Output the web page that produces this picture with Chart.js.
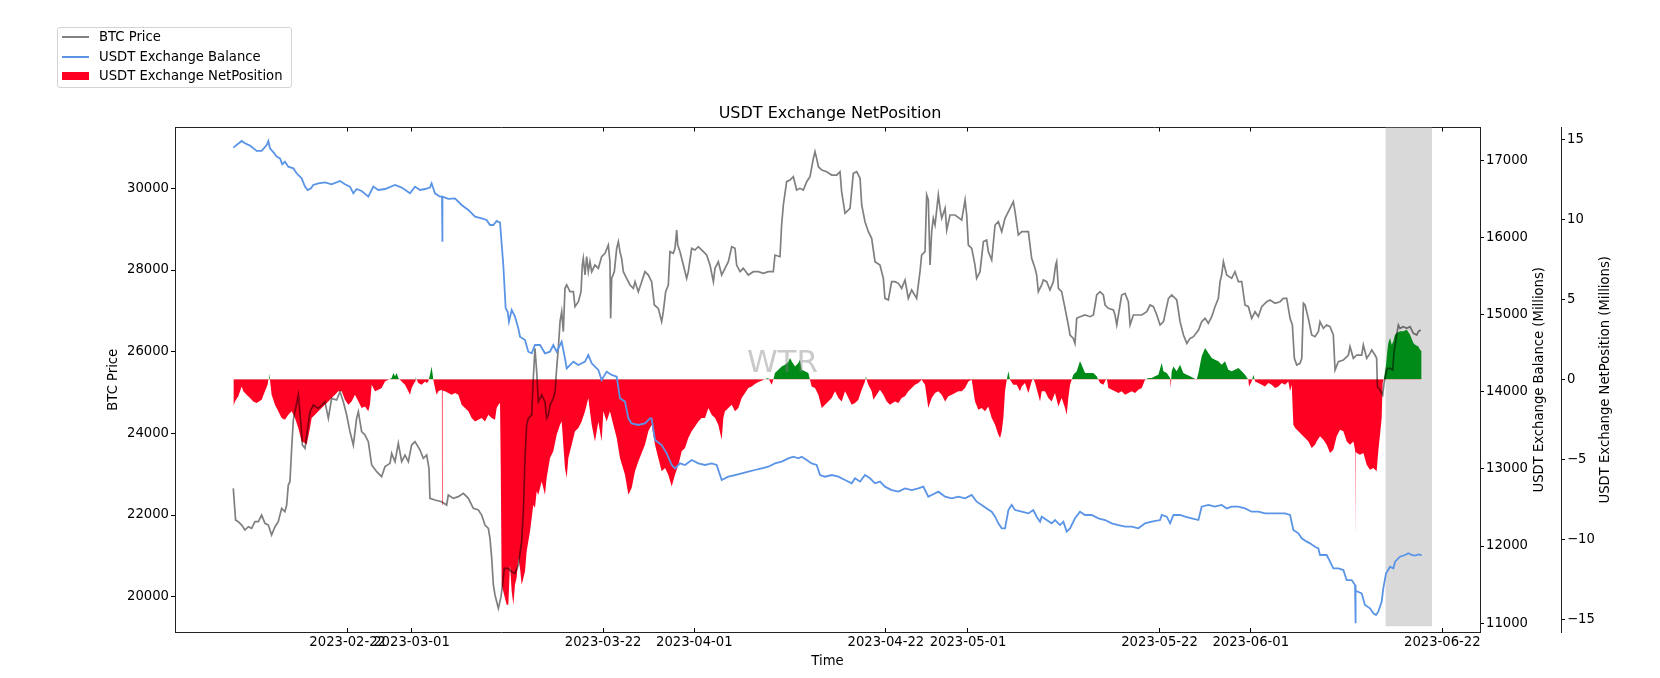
<!DOCTYPE html>
<html>
<head>
<meta charset="utf-8">
<script src="https://cdn.jsdelivr.net/npm/chart.js@4.4.0/dist/chart.umd.min.js"></script>
<style>
html,body{margin:0;padding:0;background:#fff;}
#wrap{position:relative;width:1660px;height:678px;overflow:hidden;}
#c{position:absolute;left:0;top:0;}
.lg{position:absolute;font-family:'DejaVu Sans';font-size:13.2px;color:#000;white-space:nowrap;line-height:16px;height:16px;}
#lgbox{position:absolute;left:57px;top:27px;width:235px;height:61px;box-sizing:border-box;border:1px solid #d4d4d4;border-radius:3px;background:rgba(255,255,255,0.8);}
.sw{position:absolute;}
</style>
</head>
<body>
<div id="wrap">
<canvas id="c" width="1660" height="678"></canvas>
<div id="lgbox"></div>
<div class="sw" style="left:62px;top:36px;width:27px;height:1.6px;background:#808080;"></div>
<div class="lg" style="left:99px;top:29px;">BTC Price</div>
<div class="sw" style="left:62px;top:56px;width:27px;height:1.6px;background:#5a94e6;"></div>
<div class="lg" style="left:99px;top:49px;">USDT Exchange Balance</div>
<div class="sw" style="left:62px;top:72px;width:27px;height:8px;background:#fe0022;"></div>
<div class="lg" style="left:99px;top:68px;">USDT Exchange NetPosition</div>
</div>
<script>
// time axis: days since 2023-02-22 00:00
const xTickDays = [0, 7, 28, 38, 59, 68, 89, 99, 120];
const xTickLabels = ['2023-02-22','2023-03-01','2023-03-22','2023-04-01','2023-04-22','2023-05-01','2023-05-22','2023-06-01','2023-06-22'];
const btcTicks = [20000, 22000, 24000, 26000, 28000, 30000];
const balTicks = [11000, 12000, 13000, 14000, 15000, 16000, 17000];
const netTicks = [-15, -10, -5, 0, 5, 10, 15];

// BTC price [day, price]
const btcPoints = [[-12.54,22653],[-12.29,21877],[-12.00,21837],[-11.62,21755],[-11.26,21633],[-10.89,21714],[-10.53,21673],[-10.16,21837],[-9.80,21837],[-9.43,22000],[-9.07,21796],[-8.70,21755],[-8.34,21510],[-7.97,21714],[-7.61,21837],[-7.24,22163],[-6.88,22082],[-6.69,22245],[-6.51,22735],[-6.33,22816],[-6.14,23633],[-5.96,24326],[-5.78,24530],[-5.41,24939],[-5.12,24204],[-4.97,23714],[-4.68,23633],[-4.39,24122],[-4.13,24530],[-3.77,24694],[-3.22,24612],[-2.85,24694],[-2.49,24775],[-2.12,24367],[-1.76,24857],[-1.21,24816],[-0.84,25020],[-0.48,24775],[-0.11,24449],[0.25,24041],[0.62,23714],[0.98,24367],[1.17,24530],[1.53,24041],[1.90,23959],[2.26,23796],[2.63,23224],[3.18,23061],[3.72,22939],[4.09,23184],[4.64,23265],[4.82,23510],[5.19,23306],[5.55,23755],[5.92,23306],[6.28,23469],[6.65,23306],[7.01,23714],[7.38,23796],[7.93,23592],[8.29,23388],[8.66,23469],[8.91,23143],[9.02,22408],[9.57,22367],[10.30,22326],[10.85,22245],[11.03,22490],[11.58,22408],[12.13,22449],[12.68,22531],[13.23,22408],[13.77,22163],[14.32,22122],[14.69,22000],[15.05,21755],[15.42,21673],[15.60,21429],[15.79,20939],[15.97,20286],[16.15,20041],[16.52,19714],[16.81,20000],[16.95,20245],[17.17,20694],[17.61,20694],[17.98,20612],[18.34,20571],[18.71,20775],[19.07,21347],[19.26,22082],[19.44,23388],[19.62,24204],[19.80,24367],[19.99,24408],[20.17,24449],[20.35,25347],[20.53,26082],[20.72,25510],[20.90,24775],[21.27,24939],[21.63,24775],[21.81,24367],[22.00,24449],[22.18,24694],[22.54,24857],[22.73,25020],[22.91,25592],[23.09,26082],[23.28,26735],[23.46,26980],[23.64,26490],[23.82,27551],[24.01,27633],[24.37,27469],[24.74,27469],[24.92,27102],[25.29,27224],[25.58,27469],[25.72,28122],[25.83,28286],[26.02,27877],[26.20,28326],[26.38,27959],[26.56,28204],[26.75,27959],[27.11,28122],[27.48,28041],[27.84,28326],[28.21,28408],[28.57,28612],[28.75,28204],[28.83,26816],[28.94,27796],[29.23,27959],[29.49,28530],[29.67,28694],[29.85,28449],[30.03,28286],[30.22,27959],[30.58,27796],[30.95,27633],[31.31,27551],[31.50,27714],[31.86,27469],[32.23,27714],[32.59,27959],[32.96,27877],[33.14,27796],[33.32,27714],[33.62,27143],[34.05,27061],[34.42,26735],[34.60,26980],[34.86,27469],[35.15,27633],[35.33,28449],[35.70,28408],[35.88,28530],[36.07,28979],[36.18,28612],[36.43,28449],[36.80,28122],[37.16,27796],[37.34,27959],[37.71,28530],[38.07,28490],[38.44,28571],[38.99,28449],[39.35,28367],[39.72,28122],[40.09,27714],[40.27,28041],[40.63,28204],[41.00,27877],[41.36,28041],[41.73,28204],[42.10,28571],[42.46,28530],[42.64,28122],[43.01,27959],[43.37,28041],[43.92,27877],[44.47,27959],[45.02,27959],[45.57,27918],[46.11,27959],[46.66,27959],[46.84,28367],[47.39,28326],[47.57,29102],[47.76,29592],[48.12,30163],[48.49,30204],[48.85,30286],[49.22,29959],[49.58,30000],[49.95,29959],[50.32,30163],[50.68,30286],[51.05,30734],[51.23,30898],[51.41,30734],[51.60,30530],[51.97,30449],[52.51,30408],[53.06,30326],[53.61,30326],[53.97,30408],[54.15,29918],[54.52,29388],[55.07,29510],[55.43,30367],[55.80,30408],[56.17,30245],[56.35,29592],[56.71,29184],[57.08,28939],[57.44,28775],[57.81,28204],[58.35,28122],[58.72,27796],[58.90,27306],[59.27,27265],[59.63,27714],[60.00,27714],[60.37,27673],[60.73,27551],[61.10,27755],[61.46,27306],[61.83,27510],[62.37,27306],[62.74,27959],[62.92,28367],[63.29,28449],[63.47,29837],[63.65,29714],[63.84,28122],[64.02,28939],[64.20,29265],[64.39,29102],[64.75,29837],[64.94,29510],[65.12,29265],[65.49,29510],[65.67,28979],[66.03,29347],[66.58,29347],[67.31,29224],[67.68,29714],[67.86,29347],[68.04,28612],[68.41,28530],[68.77,28122],[68.95,27796],[69.32,27959],[69.69,28694],[70.05,28734],[70.23,28449],[70.60,28245],[70.97,29102],[71.33,29184],[71.70,28939],[72.06,29265],[72.61,29510],[72.97,29673],[73.16,29428],[73.52,28857],[73.89,28939],[74.62,28939],[74.98,28286],[75.35,28041],[75.53,27877],[75.71,27469],[76.08,27633],[76.26,27755],[76.63,27714],[76.99,27510],[77.36,27714],[77.61,28122],[77.72,28204],[77.91,27551],[78.27,27469],[78.64,27061],[79.00,26653],[79.19,26408],[79.55,26326],[79.73,26204],[79.92,26816],[80.29,26857],[80.83,26898],[81.38,26857],[81.75,26898],[81.93,27143],[82.11,27388],[82.48,27469],[82.84,27388],[83.03,27143],[83.39,27061],[83.94,27020],[84.12,26898],[84.31,26653],[84.67,27143],[84.85,27388],[85.22,27429],[85.58,27224],[85.77,26653],[86.13,26898],[87.05,26898],[87.60,26980],[87.96,27143],[88.33,27102],[88.70,26898],[89.06,26653],[89.43,26735],[89.98,27306],[90.34,27388],[90.89,27265],[91.25,26735],[91.62,26408],[91.99,26204],[92.35,26326],[92.72,26367],[93.27,26530],[93.62,26735],[93.99,26816],[94.35,26694],[94.72,26857],[95.08,27102],[95.45,27306],[95.63,27714],[95.81,27877],[96.00,28204],[96.36,27877],[96.91,27796],[97.27,27959],[97.64,27714],[98.01,27714],[98.37,27143],[98.74,27102],[99.10,26816],[99.47,26980],[99.83,26857],[100.20,27102],[100.75,27224],[101.11,27265],[101.66,27184],[102.21,27224],[102.57,27306],[102.94,27306],[103.31,26816],[103.56,26653],[103.78,25837],[104.04,25673],[104.40,25714],[104.59,25837],[104.77,27184],[104.95,27143],[105.31,26816],[105.68,26408],[106.04,26367],[106.41,26490],[106.59,26735],[106.96,26571],[107.32,26653],[107.69,26612],[108.05,26408],[108.24,25551],[108.60,25755],[109.15,25796],[109.70,25918],[109.88,26122],[110.25,25837],[110.61,25918],[111.16,25918],[111.34,26163],[111.71,25837],[112.07,25959],[112.26,26041],[112.62,25918],[112.80,25837],[112.88,25143],[113.17,25061],[113.46,24939],[113.61,25224],[113.83,25469],[113.97,25592],[114.27,25592],[114.56,25551],[114.71,25999],[114.93,26326],[115.18,26653],[115.36,26571],[115.73,26612],[116.10,26571],[116.46,26612],[116.83,26449],[117.19,26408],[117.37,26490],[117.63,26530]];

// USDT exchange balance (millions) [day, value]
const balancePoints = [[-12.54,17170],[-11.62,17256],[-11.26,17226],[-10.71,17196],[-9.98,17127],[-9.43,17127],[-8.88,17204],[-8.70,17256],[-8.52,17161],[-8.04,17096],[-7.79,17053],[-7.42,17031],[-7.17,16953],[-6.88,16988],[-6.51,16923],[-5.96,16902],[-5.60,16837],[-5.05,16772],[-4.68,16664],[-4.39,16620],[-4.02,16642],[-3.77,16685],[-3.22,16707],[-2.49,16720],[-1.76,16694],[-0.84,16737],[-0.30,16694],[0.25,16664],[0.62,16577],[0.98,16633],[1.53,16607],[2.26,16534],[2.81,16664],[3.36,16620],[4.09,16633],[5.19,16685],[5.92,16651],[6.83,16577],[7.38,16664],[7.93,16620],[8.48,16633],[9.02,16651],[9.20,16707],[9.57,16577],[10.12,16534],[10.34,16534],[10.36,15950],[10.39,15950],[10.41,16534],[11.03,16504],[11.76,16512],[12.49,16426],[13.23,16361],[13.96,16274],[14.69,16253],[15.23,16231],[15.60,16166],[15.97,16166],[16.33,16218],[16.70,16197],[17.06,15647],[17.32,15085],[17.54,15041],[17.68,14912],[17.98,15063],[18.34,14977],[18.71,14825],[18.89,14717],[19.44,14674],[19.80,14522],[20.17,14501],[20.53,14609],[21.08,14609],[21.63,14501],[22.18,14522],[22.54,14609],[22.91,14522],[23.28,14609],[23.46,14652],[23.82,14436],[24.01,14306],[24.37,14349],[24.74,14393],[25.29,14349],[26.02,14393],[26.38,14479],[26.75,14371],[27.11,14328],[27.48,14285],[27.84,14155],[28.39,14263],[28.94,14220],[29.49,14198],[29.85,13917],[30.40,13874],[30.77,13657],[31.13,13592],[31.86,13571],[32.59,13592],[33.14,13657],[33.32,13657],[33.69,13376],[34.42,13311],[34.97,13203],[35.52,13052],[35.88,13008],[36.43,13073],[36.98,13052],[37.71,13117],[38.44,13073],[39.17,13052],[39.90,13073],[40.45,13052],[41.00,12857],[41.73,12900],[42.46,12922],[43.19,12944],[43.92,12965],[44.65,12987],[45.38,13008],[46.11,13030],[46.84,13073],[47.57,13095],[48.31,13138],[48.85,13160],[49.40,13138],[49.77,13160],[50.32,13117],[50.86,13073],[51.41,13052],[51.78,12922],[52.32,12900],[53.06,12922],[53.79,12900],[54.52,12857],[55.25,12814],[55.62,12879],[56.17,12836],[56.71,12922],[57.26,12879],[57.81,12814],[58.35,12836],[58.90,12771],[59.63,12727],[60.37,12706],[61.10,12749],[61.83,12727],[62.56,12749],[63.11,12771],[63.65,12641],[64.02,12663],[64.75,12706],[65.49,12641],[66.22,12619],[66.95,12641],[67.68,12619],[68.41,12663],[68.95,12576],[69.50,12533],[70.05,12489],[70.60,12446],[70.97,12381],[71.33,12295],[71.70,12230],[72.06,12230],[72.43,12468],[72.79,12533],[73.16,12468],[73.89,12446],[74.62,12424],[75.16,12468],[75.53,12381],[75.90,12316],[76.08,12381],[76.63,12338],[77.17,12295],[77.54,12338],[78.09,12273],[78.46,12316],[78.82,12187],[79.19,12230],[79.73,12360],[80.28,12446],[80.83,12403],[81.56,12403],[82.29,12360],[83.03,12338],[83.76,12295],[84.49,12273],[85.22,12252],[85.95,12252],[86.68,12230],[87.41,12295],[88.14,12316],[89.06,12338],[89.24,12403],[89.79,12381],[90.16,12295],[90.52,12403],[91.25,12403],[91.80,12381],[92.52,12360],[93.26,12338],[93.62,12511],[94.35,12533],[95.08,12511],[95.81,12533],[96.36,12489],[96.91,12511],[97.64,12511],[98.37,12489],[99.10,12446],[99.83,12446],[100.56,12424],[101.29,12424],[102.03,12424],[102.76,12424],[103.31,12403],[103.67,12208],[104.22,12165],[104.59,12100],[105.13,12057],[105.50,12035],[106.04,11992],[106.41,11970],[106.59,11884],[107.32,11884],[107.69,11797],[108.05,11711],[108.60,11711],[109.15,11689],[109.51,11559],[110.06,11559],[110.43,11494],[110.46,10999],[110.49,10999],[110.53,11420],[111.16,11386],[111.52,11235],[112.07,11192],[112.44,11127],[112.73,11105],[112.98,11149],[113.35,11278],[113.53,11451],[113.83,11646],[114.27,11732],[114.63,11711],[114.82,11797],[115.36,11862],[115.91,11884],[116.28,11906],[116.64,11884],[117.01,11876],[117.37,11893],[117.74,11884]];

// USDT exchange net position (millions) [day, value]
const netPoints = [[-12.54,-1.69],[-12.36,-1.38],[-11.99,-1.06],[-11.62,-0.44],[-11.44,-0.75],[-11.08,-0.96],[-10.71,-1.17],[-10.35,-1.38],[-9.98,-1.48],[-9.43,-1.27],[-9.07,-0.75],[-8.78,-0.33],[-8.70,-0.02],[-8.63,0.40],[-8.52,-0.02],[-8.34,-0.96],[-7.97,-1.58],[-7.61,-2.00],[-7.24,-2.42],[-6.88,-2.52],[-6.51,-2.21],[-6.14,-2.00],[-5.78,-2.42],[-5.41,-3.04],[-5.05,-3.88],[-4.68,-3.98],[-4.50,-4.08],[-4.31,-3.56],[-4.13,-3.04],[-3.95,-2.42],[-3.58,-2.21],[-3.22,-2.00],[-2.85,-1.79],[-2.49,-1.58],[-2.12,-1.38],[-1.76,-1.17],[-1.39,-0.96],[-1.03,-0.75],[-0.66,-0.75],[-0.30,-1.27],[0.07,-1.58],[0.43,-1.38],[0.80,-0.96],[1.17,-1.38],[1.53,-1.79],[1.90,-1.69],[2.26,-2.00],[2.44,-1.58],[2.63,-0.33],[2.99,-0.75],[3.36,-0.65],[3.72,-0.54],[4.09,-0.13],[4.45,-0.02],[4.82,0.08],[5.00,0.40],[5.19,0.19],[5.37,0.40],[5.55,0.08],[5.73,-0.02],[5.92,-0.13],[6.28,-0.33],[6.65,-0.75],[6.83,-0.96],[7.01,-0.54],[7.38,-0.13],[7.45,0.13],[7.74,-0.23],[8.11,-0.33],[8.48,-0.13],[8.66,-0.23],[8.84,-0.13],[9.02,0.29],[9.20,0.81],[9.39,-0.02],[9.57,-0.54],[9.75,-0.96],[9.94,-0.75],[10.30,-0.65],[10.33,-0.68],[10.34,-7.83],[10.40,-7.83],[10.41,-0.70],[10.67,-0.75],[11.03,-0.85],[11.40,-0.96],[11.76,-0.85],[12.13,-0.96],[12.49,-1.58],[12.86,-1.79],[13.23,-2.00],[13.59,-2.42],[13.96,-2.63],[14.32,-2.52],[14.69,-2.42],[15.05,-2.63],[15.42,-2.21],[15.79,-2.42],[16.15,-2.52],[16.33,-1.79],[16.52,-1.58],[16.70,-1.48],[16.78,-5.50],[16.88,-12.83],[17.24,-13.67],[17.43,-14.08],[17.61,-14.08],[17.79,-11.58],[17.98,-13.25],[18.16,-14.08],[18.34,-12.83],[18.52,-12.42],[18.71,-11.17],[18.89,-11.79],[19.07,-12.83],[19.26,-12.42],[19.44,-12.00],[19.62,-10.75],[19.80,-10.13],[19.99,-9.50],[20.17,-8.67],[20.35,-7.83],[20.53,-8.04],[20.72,-7.00],[20.90,-7.21],[21.27,-6.38],[21.63,-7.21],[21.81,-6.17],[22.18,-4.92],[22.54,-4.50],[22.91,-3.46],[23.28,-2.83],[23.46,-2.63],[23.64,-4.08],[23.82,-5.54],[24.01,-6.17],[24.19,-4.92],[24.55,-4.08],[24.92,-3.25],[25.29,-3.04],[25.65,-2.63],[26.02,-2.00],[26.38,-1.17],[26.56,-2.00],[26.75,-2.83],[27.11,-3.88],[27.48,-2.63],[27.84,-3.88],[28.03,-2.00],[28.39,-2.63],[28.75,-2.00],[29.12,-2.83],[29.49,-3.67],[29.85,-4.92],[30.40,-5.96],[30.77,-7.21],[31.13,-6.79],[31.50,-5.75],[31.86,-5.13],[32.23,-4.60],[32.59,-4.08],[32.96,-3.25],[33.32,-2.83],[33.69,-4.08],[34.05,-4.92],[34.42,-5.75],[34.79,-5.54],[35.15,-5.96],[35.52,-6.69],[35.88,-5.96],[36.25,-5.33],[36.62,-4.50],[36.98,-4.29],[37.34,-3.67],[37.71,-3.25],[38.07,-2.94],[38.44,-2.63],[38.80,-2.42],[39.17,-2.42],[39.54,-1.79],[39.90,-2.21],[40.27,-2.42],[40.63,-2.83],[41.00,-3.77],[41.18,-2.42],[41.36,-2.00],[41.73,-1.79],[42.10,-1.58],[42.46,-2.00],[42.83,-1.79],[43.19,-1.17],[43.56,-0.85],[43.92,-0.54],[44.29,-0.44],[44.65,-0.29],[45.02,-0.17],[45.38,-0.08],[45.75,0.02],[46.11,0.08],[46.48,-0.33],[46.66,-0.02],[46.84,0.40],[47.21,0.60],[47.57,0.81],[47.94,0.92],[48.31,1.08],[48.49,1.33],[48.67,1.13],[49.04,0.81],[49.40,1.02],[49.58,1.23],[49.77,0.60],[50.13,0.50],[50.50,0.40],[50.68,-0.02],[50.86,-0.44],[51.23,-0.54],[51.60,-0.96],[51.97,-1.79],[52.33,-1.58],[52.69,-1.38],[53.06,-1.17],[53.43,-0.75],[53.79,-1.17],[54.16,-1.38],[54.52,-0.75],[54.89,-1.17],[55.25,-1.58],[55.62,-1.48],[55.98,-1.27],[56.35,-0.65],[56.71,-0.13],[56.82,0.19],[56.89,-0.02],[57.08,-0.33],[57.44,-0.75],[57.63,-1.27],[57.99,-0.96],[58.35,-0.65],[58.72,-0.96],[59.09,-1.38],[59.45,-1.58],[60.00,-1.38],[60.37,-1.48],[60.73,-1.17],[61.10,-1.06],[61.46,-0.75],[61.83,-0.54],[62.19,-0.33],[62.56,-0.23],[62.92,-0.02],[63.29,-0.33],[63.65,-1.79],[64.02,-1.17],[64.39,-0.85],[64.75,-0.75],[65.12,-0.96],[65.49,-1.38],[65.85,-1.06],[66.22,-0.96],[66.58,-0.85],[66.95,-0.75],[67.31,-0.75],[67.68,-0.54],[68.04,-0.13],[68.41,-0.02],[68.77,-1.38],[69.14,-1.90],[69.50,-1.79],[69.87,-2.00],[70.23,-1.69],[70.60,-2.42],[70.97,-2.83],[71.33,-3.46],[71.52,-3.67],[71.70,-3.25],[71.88,-2.42],[72.06,-0.75],[72.25,-0.02],[72.43,0.50],[72.61,-0.02],[72.97,-0.33],[73.34,-0.33],[73.70,-0.75],[73.89,-0.44],[74.25,-0.23],[74.62,-0.85],[74.98,-0.13],[75.16,0.08],[75.35,-0.23],[75.71,-0.96],[75.90,-1.38],[76.08,-0.75],[76.44,-0.75],[76.81,-1.17],[77.17,-1.38],[77.54,-0.85],[77.91,-1.69],[78.27,-1.17],[78.64,-1.79],[78.82,-2.21],[79.00,-1.17],[79.19,-0.33],[79.37,-0.02],[79.55,0.29],[79.92,0.50],[80.28,1.13],[80.46,0.92],[80.83,0.40],[81.20,0.40],[81.74,0.40],[82.11,0.19],[82.29,-0.02],[82.48,-0.23],[82.84,-0.33],[83.21,0.08],[83.39,-0.54],[83.76,-0.65],[84.12,-0.75],[84.49,-0.85],[84.85,-0.75],[85.22,-0.96],[85.58,-0.85],[85.95,-0.75],[86.31,-0.85],[86.68,-0.65],[87.05,-0.54],[87.41,-0.02],[87.78,0.08],[88.14,0.08],[88.50,0.19],[88.87,0.29],[89.24,1.02],[89.42,0.50],[89.79,0.40],[90.16,0.08],[90.23,-0.54],[90.33,0.50],[90.52,0.81],[90.88,0.50],[91.25,0.92],[91.61,0.40],[91.98,0.29],[92.35,0.19],[92.71,0.08],[93.07,-0.02],[93.26,0.40],[93.62,1.44],[93.99,1.96],[94.35,1.65],[94.72,1.33],[95.08,1.23],[95.45,1.13],[95.81,0.92],[96.18,1.13],[96.54,0.60],[96.91,0.50],[97.27,0.60],[97.64,0.71],[98.01,0.50],[98.37,0.29],[98.74,-0.02],[98.81,-0.44],[99.10,-0.13],[99.29,0.29],[99.47,-0.13],[99.83,-0.23],[100.20,-0.33],[100.56,-0.44],[100.93,-0.23],[101.29,-0.33],[101.66,-0.54],[102.03,-0.44],[102.39,-0.23],[102.76,-0.33],[103.12,-0.13],[103.31,-0.75],[103.49,-0.33],[103.67,-2.83],[103.86,-3.04],[104.22,-3.25],[104.59,-3.46],[104.95,-3.67],[105.32,-3.88],[105.68,-4.29],[106.05,-4.08],[106.22,-3.88],[106.59,-3.56],[106.96,-3.77],[107.32,-4.08],[107.69,-4.60],[108.05,-4.40],[108.42,-3.56],[108.79,-3.15],[109.15,-3.25],[109.52,-3.88],[109.88,-4.08],[110.25,-3.88],[110.43,-4.40],[110.44,-9.98],[110.50,-9.98],[110.51,-4.50],[110.61,-4.60],[110.98,-4.71],[111.34,-4.60],[111.71,-5.33],[112.07,-5.65],[112.44,-5.54],[112.80,-5.75],[112.98,-4.50],[113.17,-3.46],[113.35,-2.42],[113.46,-0.23],[113.61,0.08],[113.72,0.50],[113.83,0.92],[113.97,1.75],[114.08,2.27],[114.27,2.58],[114.45,2.17],[114.63,2.38],[114.81,2.79],[115.00,2.90],[115.36,3.00],[115.73,3.00],[116.10,3.10],[116.46,2.79],[116.83,2.27],[117.01,2.17],[117.37,2.06],[117.56,1.85],[117.74,1.75]];

// highlighted period (days) and its vertical extent on the balance axis
const shadeDays = [113.75, 118.87];
const shadeBalRange = [10960, 17600];

const xMin = -18.93, xMax = 124.13;
const btcMin = 19135, btcMax = 31490;
const balMin = 10885, balMax = 17431;
const netMin = -15.79, netMax = 15.74;

const FONT = 'DejaVu Sans';
Chart.defaults.font.family = FONT;
const tickFont = {family: FONT, size: 13.2};
const labelFont = {family: FONT, size: 13.2};
const toXY = pts => pts.map(p => ({x: p[0], y: p[1]}));
const setTicks = arr => (s => { s.ticks = arr.map(v => ({value: v})); });
const minus = v => (v < 0 ? '\u2212' + Math.abs(v) : String(v));

const extras = {
  id: 'extras',
  afterDatasetsDraw(chart) {
    const {ctx, chartArea: ca} = chart;
    ctx.save();
    ctx.font = '31px "' + FONT + '"';
    ctx.fillStyle = 'rgba(128,128,128,0.42)';
    ctx.textAlign = 'center';
    ctx.textBaseline = 'alphabetic';
    ctx.fillText('WTR', ca.left + ca.width * 0.4655, ca.top + ca.height * 0.4837);
    ctx.restore();
  },
  afterDraw(chart) {
    const {ctx, chartArea: ca, scales} = chart;
    const cy = (ca.top + ca.bottom) / 2;
    ctx.save();
    ctx.font = '13.2px "' + FONT + '"';
    ctx.fillStyle = '#000';
    ctx.textAlign = 'center';
    ctx.textBaseline = 'middle';
    [[scales.yBal, 60, 'USDT Exchange Balance (Millions)'],
     [scales.yNet, 45, 'USDT Exchange NetPosition (Millions)']].forEach(([s, off, txt]) => {
      ctx.save();
      ctx.translate(s.left + off, cy);
      ctx.rotate(-Math.PI / 2);
      ctx.fillText(txt, 0, 0);
      ctx.restore();
    });
    ctx.restore();
  }
};

new Chart(document.getElementById('c'), {
  type: 'line',
  data: {
    datasets: [
      {label: 'USDT Exchange Balance', data: toXY(balancePoints), yAxisID: 'yBal', xAxisID: 'x',
       borderColor: '#5a94e6', borderWidth: 1.8, pointRadius: 0, fill: false, tension: 0, order: 0},
      {label: 'BTC Price', data: toXY(btcPoints), yAxisID: 'yBTC', xAxisID: 'x',
       borderColor: 'rgba(0,0,0,0.5)', borderWidth: 1.7, pointRadius: 0, fill: false, tension: 0, order: 1},
      {label: 'USDT Exchange NetPosition', data: toXY(netPoints), yAxisID: 'yNet', xAxisID: 'x',
       borderColor: 'rgba(0,0,0,0)', borderWidth: 0, backgroundColor: '#fe0022', pointRadius: 0, tension: 0,
       fill: {target: 'origin', above: '#008a18', below: '#fe0022'}, order: 2},
      {label: 'highlight', data: shadeDays.map(d => ({x: d, y: shadeBalRange[1]})), yAxisID: 'yBal', xAxisID: 'x',
       borderColor: 'rgba(0,0,0,0)', borderWidth: 0, backgroundColor: '#d9d9d9', pointRadius: 0,
       fill: {value: shadeBalRange[0]}, order: 3}
    ]
  },
  options: {
    responsive: false,
    animation: false,
    events: [],
    layout: {padding: 0},
    plugins: {
      legend: {display: false},
      tooltip: {enabled: false},
      title: {display: true, text: 'USDT Exchange NetPosition', color: '#000',
              font: {family: FONT, size: 16, weight: 'normal'}, padding: {top: 103.8, bottom: 4.5}}
    },
    scales: {
      x: {type: 'linear', position: 'bottom', min: xMin, max: xMax,
          afterBuildTicks: setTicks(xTickDays),
          ticks: {autoSkip: false, maxRotation: 0, minRotation: 0, padding: 6.4, font: tickFont, color: '#000',
                  callback: (v, i) => xTickLabels[i]},
          grid: {drawOnChartArea: false, drawTicks: true, tickLength: -4, color: '#000', lineWidth: 1},
          border: {display: true, color: '#222', width: 1},
          title: {display: true, text: 'Time', color: '#000', font: labelFont, padding: {top: 0, bottom: 8.2}},
          afterFit: s => { s.height = 46; }},
      xTop: {type: 'linear', position: 'top', min: xMin, max: xMax,
          afterBuildTicks: setTicks(xTickDays),
          ticks: {display: false},
          grid: {drawOnChartArea: false, drawTicks: true, tickLength: -4, color: '#000', lineWidth: 1},
          border: {display: true, color: '#222', width: 1},
          afterFit: s => { s.height = 0; }},
      yBTC: {type: 'linear', position: 'left', min: btcMin, max: btcMax,
          afterBuildTicks: setTicks(btcTicks),
          ticks: {font: tickFont, color: '#000', padding: 2, callback: v => String(v)},
          grid: {drawOnChartArea: false, drawTicks: true, tickLength: 4, color: '#000', lineWidth: 1},
          border: {display: true, color: '#222', width: 1},
          title: {display: true, text: 'BTC Price', color: '#000', font: labelFont, padding: {top: 106, bottom: 0}},
          afterFit: s => { s.width = 175; }},
      yBal: {type: 'linear', position: 'right', weight: 0, min: balMin, max: balMax,
          afterBuildTicks: setTicks(balTicks),
          ticks: {font: tickFont, color: '#000', padding: 2, callback: v => String(v)},
          grid: {drawOnChartArea: false, drawTicks: true, tickLength: 4, color: '#000', lineWidth: 1},
          border: {display: true, color: '#222', width: 1},
          afterFit: s => { s.width = 81; }},
      yNet: {type: 'linear', position: 'right', weight: 1, min: netMin, max: netMax,
          afterBuildTicks: setTicks(netTicks),
          ticks: {font: tickFont, color: '#000', padding: 2, callback: v => minus(v)},
          grid: {drawOnChartArea: false, drawTicks: true, tickLength: 4, color: '#000', lineWidth: 1},
          border: {display: true, color: '#222', width: 1},
          afterFit: s => { s.width = 99; }}
    }
  },
  plugins: [extras]
});
</script>
</body>
</html>
